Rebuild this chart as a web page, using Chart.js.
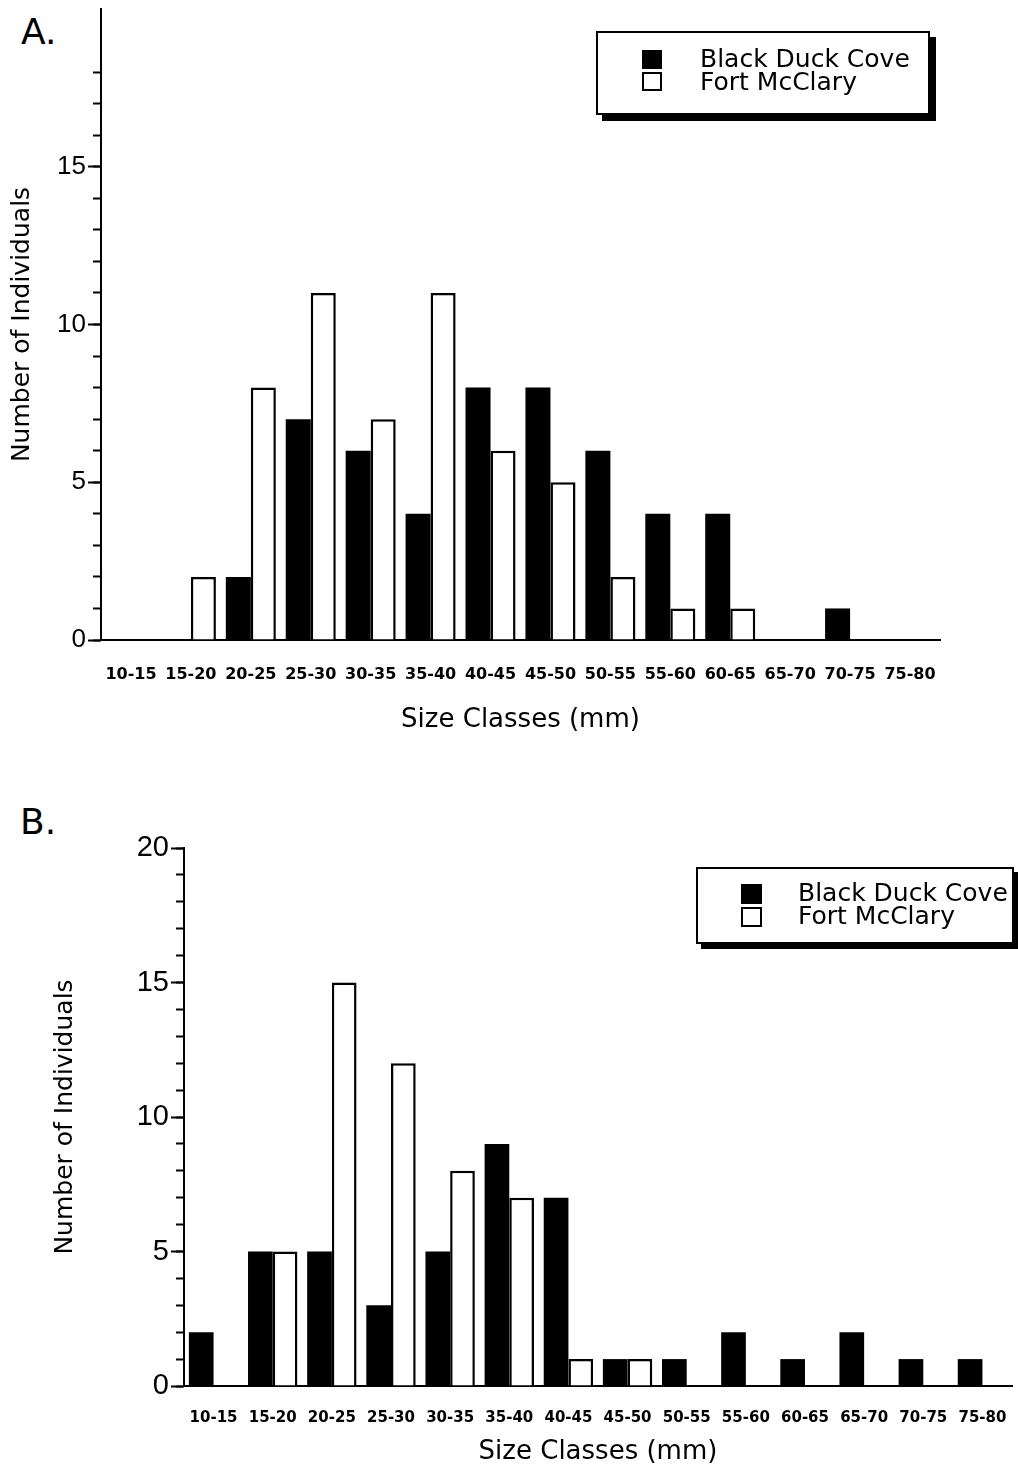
<!DOCTYPE html>
<html><head><meta charset="utf-8">
<script src="https://cdn.jsdelivr.net/npm/chart.js@4.4.1/dist/chart.umd.min.js"></script>
<style>
html,body{margin:0;padding:0;background:#fff;}
body{width:1018px;height:1468px;position:relative;overflow:hidden;font-family:"DejaVu Sans",sans-serif;color:#000;}
canvas{position:absolute;left:0;}
.panel{position:absolute;font-size:36px;line-height:36px;}
.legend{position:absolute;border:2px solid #000;background:#fff;box-shadow:6px 6px 0 #000;box-sizing:border-box;}
.sw{position:absolute;box-sizing:border-box;border:2px solid #000;}
.lt{position:absolute;font-size:25px;line-height:23px;white-space:nowrap;}
</style></head>
<body>
<div class="panel" style="left:21px;top:14px;">A.</div>
<canvas id="chartA" width="1018" height="760" style="top:0;"></canvas>
<div class="legend" style="left:596px;top:31px;width:334px;height:84px;">
  <div class="sw" style="left:44px;top:17px;width:20px;height:19px;background:#000;"></div>
  <div class="sw" style="left:44px;top:39px;width:20px;height:19px;background:#fff;"></div>
  <div class="lt" style="left:102px;top:14px;">Black Duck Cove</div>
  <div class="lt" style="left:102px;top:37px;">Fort McClary</div>
</div>
<div class="panel" style="left:20px;top:804px;">B.</div>
<canvas id="chartB" width="1018" height="688" style="top:780px;"></canvas>
<div class="legend" style="left:696px;top:867px;width:318px;height:77px;box-shadow:5px 5px 0 #000;">
  <div class="sw" style="left:43px;top:15px;width:21px;height:20px;background:#000;"></div>
  <div class="sw" style="left:43px;top:38px;width:21px;height:20px;background:#fff;"></div>
  <div class="lt" style="left:100px;top:12px;">Black Duck Cove</div>
  <div class="lt" style="left:100px;top:35px;">Fort McClary</div>
</div>
<script>
// ---- data ----
const sizeClasses = ['10-15','15-20','20-25','25-30','30-35','35-40','40-45','45-50','50-55','55-60','60-65','65-70','70-75','75-80'];
const blackDuckCoveA = [0,0,2,7,6,4,8,8,6,4,4,0,1,0];
const fortMcClaryA   = [0,2,8,11,7,11,6,5,2,1,1,0,0,0];
const blackDuckCoveB = [2,5,5,3,5,9,7,1,1,2,1,2,1,1];
const fortMcClaryB   = [0,5,15,12,8,7,1,1,0,0,0,0,0,0];
const yLabelsA = [0,5,10,15];
const yLabelsB = [0,5,10,15,20];
const seriesNames = ['Black Duck Cove','Fort McClary'];
const yTitle = 'Number of Individuals';
const xTitle = 'Size Classes (mm)';

function makeChart(id, black, white, yLabels, g) {
  const ctx = document.getElementById(id);
  return new Chart(ctx, {
    type: 'bar',
    data: {
      labels: sizeClasses,
      datasets: [
        {label: seriesNames[0], data: black, backgroundColor: '#000', borderColor: '#000', borderWidth: 0,
         categoryPercentage: g.catPct, barPercentage: 1.0, yAxisID: 'y'},
        {label: seriesNames[1], data: white, backgroundColor: '#fff', borderColor: '#000', borderWidth: 2.5,
         categoryPercentage: g.catPct, barPercentage: 1.0, yAxisID: 'y'}
      ]
    },
    options: {
      responsive: false,
      animation: false,
      devicePixelRatio: 1,
      layout: {padding: {left: 0, right: g.padRight, top: g.padTop, bottom: g.padBottom}},
      plugins: {legend: {display: false}, tooltip: {enabled: false}},
      scales: {
        x: {
          type: 'category', offset: true,
          grid: {display: false},
          border: {display: true, color: '#000', width: 2},
          ticks: {color: '#000', font: {family: 'DejaVu Sans', size: g.xTickSize, weight: 'bold'},
                  padding: g.xTickPad, maxRotation: 0, autoSkip: false},
          title: {display: true, text: xTitle, color: '#000', padding: 0,
                  font: {family: 'DejaVu Sans', size: 26}},
          afterFit: s => { s.height = g.xHeight; s.paddingLeft = 0; s.paddingRight = 0; }
        },
        y: {
          axis: 'y', type: 'linear', position: 'left', weight: 1, min: 0, max: 20,
          afterBuildTicks: s => { s.ticks = yLabels.map(v => ({value: v})); },
          ticks: {color: '#000', font: {family: 'Liberation Sans', size: g.yTickSize}, padding: 2, autoSkip: false,
                  callback: v => String(v)},
          grid: {drawOnChartArea: false, drawTicks: true, tickLength: 13, tickWidth: 2, tickColor: '#000'},
          border: {display: true, color: '#000', width: 2},
          title: {display: true, text: yTitle, color: '#000', padding: {top: g.yTitlePad, bottom: 0},
                  font: {family: 'DejaVu Sans', size: 25}},
          afterFit: s => { s.width = g.yWidth; s.paddingTop = 0; s.paddingBottom = 0; }
        },
        yMinor: {
          axis: 'y', type: 'linear', position: 'left', weight: 0, min: 0, max: 20,
          ticks: {stepSize: 1, autoSkip: false, callback: () => '', font: {size: 1}},
          grid: {drawOnChartArea: false, drawTicks: true, tickLength: 8, tickWidth: 2,
                 tickColor: c => (c.tick && c.tick.value > g.maxMinor) ? 'rgba(0,0,0,0)' : '#000'},
          border: {display: false},
          afterFit: s => { s.width = 0; s.paddingTop = 0; s.paddingBottom = 0; }
        }
      }
    }
  });
}

makeChart('chartA', blackDuckCoveA, fortMcClaryA, yLabelsA, {
  catPct: 0.835, padRight: 78, padTop: 9, padBottom: 24, xHeight: 96, xTickPad: 17, xTickSize: 16,
  yTickSize: 26, yTitlePad: 7, yWidth: 101, maxMinor: 18
});
makeChart('chartB', blackDuckCoveB, fortMcClaryB, yLabelsB, {
  catPct: 0.835, padRight: 6, padTop: 68, padBottom: 0, xHeight: 82, xTickPad: 15, xTickSize: 15,
  yTickSize: 29, yTitlePad: 50, yWidth: 184, maxMinor: 20
});
</script>
</body></html>
